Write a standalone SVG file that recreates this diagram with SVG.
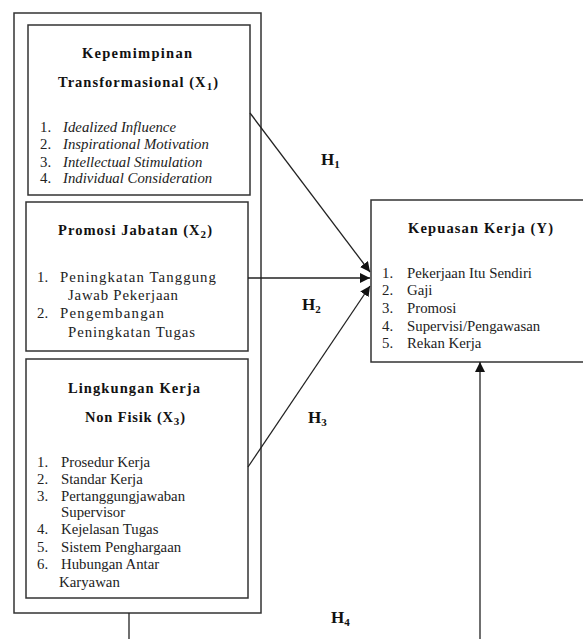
<svg xmlns="http://www.w3.org/2000/svg" width="583" height="639" viewBox="0 0 583 639">
<defs>
<marker id="ah" viewBox="0 0 10 10" refX="10" refY="5" markerWidth="10" markerHeight="10" markerUnits="userSpaceOnUse" orient="auto">
<path d="M0,0 L10,5 L0,10 z" fill="#111"/>
</marker>
<style>
.box{fill:#fff;stroke:#333;stroke-width:1.5}
.t{font-family:"Liberation Serif","Times New Roman",serif;font-size:14.5px;font-weight:bold;fill:#111}
.i{font-family:"Liberation Serif","Times New Roman",serif;font-size:14.8px;fill:#222}
.it{font-style:italic}
.h{font-family:"Liberation Serif","Times New Roman",serif;font-size:17px;font-weight:bold;fill:#111}
.sub{font-size:11px}
.ln{stroke:#222;stroke-width:1.3;fill:none}
</style>
</defs>
<rect width="583" height="639" fill="#fff"/>
<g id="outer"><rect class="box" x="14" y="13" width="247" height="600"/></g>
<g id="x1">
<rect class="box" x="28" y="25" width="222" height="170"/>
<text class="t" x="82" y="58" textLength="110" lengthAdjust="spacing">Kepemimpinan</text>
<text class="t" x="58" y="87" textLength="160" lengthAdjust="spacing">Transformasional (X<tspan class="sub" dy="3">1</tspan><tspan dy="-3">)</tspan></text>
<g class="i">
<text x="40" y="132">1.</text><text class="it" x="63" y="132">Idealized Influence</text>
<text x="40" y="149">2.</text><text class="it" x="63" y="149">Inspirational Motivation</text>
<text x="40" y="167">3.</text><text class="it" x="63" y="167">Intellectual Stimulation</text>
<text x="40" y="183">4.</text><text class="it" x="63" y="183">Individual Consideration</text>
</g>
</g>
<g id="x2">
<rect class="box" x="26" y="202" width="222" height="149"/>
<text class="t" x="58" y="235" textLength="154" lengthAdjust="spacing">Promosi Jabatan (X<tspan class="sub" dy="3">2</tspan><tspan dy="-3">)</tspan></text>
<g class="i">
<text x="37" y="282">1.</text><text x="60" y="282" textLength="156" lengthAdjust="spacing">Peningkatan Tanggung</text>
<text x="68" y="300" textLength="110" lengthAdjust="spacing">Jawab Pekerjaan</text>
<text x="37" y="318">2.</text><text x="60" y="318" textLength="104" lengthAdjust="spacing">Pengembangan</text>
<text x="68" y="337" textLength="127" lengthAdjust="spacing">Peningkatan Tugas</text>
</g>
</g>
<g id="x3">
<rect class="box" x="26" y="359" width="222" height="239"/>
<text class="t" x="68" y="393" textLength="132" lengthAdjust="spacing">Lingkungan Kerja</text>
<text class="t" x="85" y="422" textLength="100" lengthAdjust="spacing">Non Fisik (X<tspan class="sub" dy="3">3</tspan><tspan dy="-3">)</tspan></text>
<g class="i">
<text x="37" y="467">1.</text><text x="61" y="467">Prosedur Kerja</text>
<text x="37" y="484">2.</text><text x="61" y="484">Standar Kerja</text>
<text x="37" y="501">3.</text><text x="61" y="501">Pertanggungjawaban</text>
<text x="61" y="517">Supervisor</text>
<text x="37" y="534">4.</text><text x="61" y="534">Kejelasan Tugas</text>
<text x="37" y="552">5.</text><text x="61" y="552">Sistem Penghargaan</text>
<text x="37" y="569">6.</text><text x="61" y="569">Hubungan Antar</text>
<text x="59" y="587">Karyawan</text>
</g>
</g>
<g id="y">
<rect class="box" x="371" y="200" width="220" height="162"/>
<text class="t" x="408" y="233" textLength="145" lengthAdjust="spacing">Kepuasan Kerja (Y)</text>
<g class="i">
<text x="382" y="278">1.</text><text x="407" y="278">Pekerjaan Itu Sendiri</text>
<text x="382" y="295">2.</text><text x="407" y="295">Gaji</text>
<text x="382" y="313">3.</text><text x="407" y="313">Promosi</text>
<text x="382" y="331">4.</text><text x="407" y="331">Supervisi/Pengawasan</text>
<text x="382" y="348">5.</text><text x="407" y="348">Rekan Kerja</text>
</g>
</g>
<g id="connectors">
<line class="ln" x1="250" y1="113" x2="370" y2="272" marker-end="url(#ah)"/>
<line class="ln" x1="248" y1="278" x2="370" y2="278" marker-end="url(#ah)"/>
<line class="ln" x1="248" y1="467" x2="370" y2="286" marker-end="url(#ah)"/>
<line class="ln" x1="480" y1="639" x2="480" y2="362" marker-end="url(#ah)"/>
<line class="ln" x1="129" y1="613" x2="129" y2="639"/>
</g>
<g id="labels">
<text class="h" x="321" y="165">H<tspan class="sub" dy="3">1</tspan></text>
<text class="h" x="302" y="310">H<tspan class="sub" dy="3">2</tspan></text>
<text class="h" x="308" y="423">H<tspan class="sub" dy="3">3</tspan></text>
<text class="h" x="331" y="623">H<tspan class="sub" dy="3">4</tspan></text>
</g>
</svg>
